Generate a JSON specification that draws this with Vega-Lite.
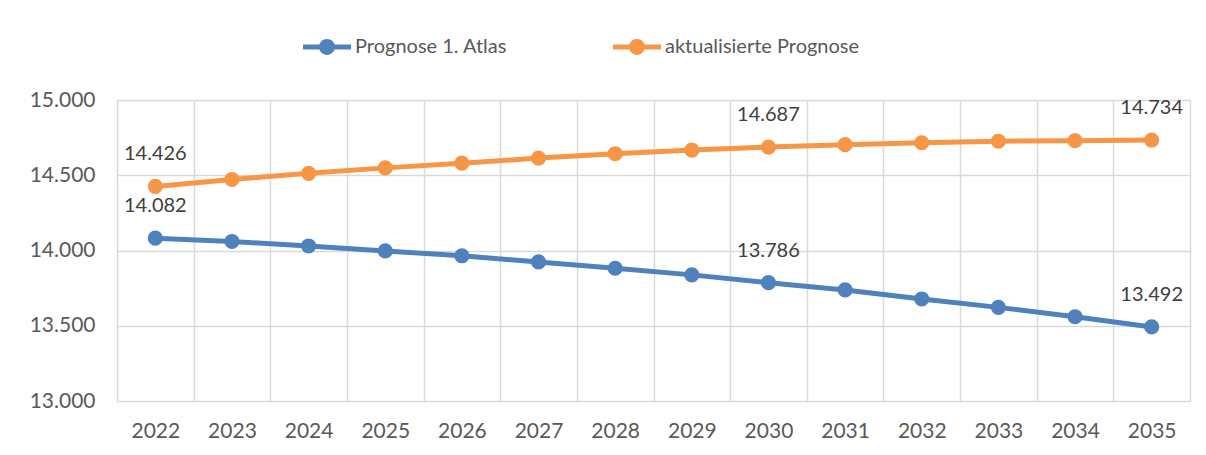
{
  "$schema": "https://vega.github.io/schema/vega-lite/v6.json",
  "width": 1073,
  "height": 301,
  "autosize": "none",
  "padding": {"left": 117, "top": 100, "right": 16, "bottom": 54},
  "background": "white",
  "config": {
    "view": {"stroke": null},
    "font": "Lato",
    "locale": {"number": {"decimal": ",", "thousands": ".", "grouping": [3], "currency": ["", " €"]}}
  },
  "data": {
    "values": [
      {"year": "2022", "series": "Prognose 1. Atlas", "value": 14082, "label": true},
      {"year": "2023", "series": "Prognose 1. Atlas", "value": 14060, "label": false},
      {"year": "2024", "series": "Prognose 1. Atlas", "value": 14030, "label": false},
      {"year": "2025", "series": "Prognose 1. Atlas", "value": 13997, "label": false},
      {"year": "2026", "series": "Prognose 1. Atlas", "value": 13965, "label": false},
      {"year": "2027", "series": "Prognose 1. Atlas", "value": 13924, "label": false},
      {"year": "2028", "series": "Prognose 1. Atlas", "value": 13882, "label": false},
      {"year": "2029", "series": "Prognose 1. Atlas", "value": 13838, "label": false},
      {"year": "2030", "series": "Prognose 1. Atlas", "value": 13786, "label": true},
      {"year": "2031", "series": "Prognose 1. Atlas", "value": 13738, "label": false},
      {"year": "2032", "series": "Prognose 1. Atlas", "value": 13678, "label": false},
      {"year": "2033", "series": "Prognose 1. Atlas", "value": 13622, "label": false},
      {"year": "2034", "series": "Prognose 1. Atlas", "value": 13560, "label": false},
      {"year": "2035", "series": "Prognose 1. Atlas", "value": 13492, "label": true},
      {"year": "2022", "series": "aktualisierte Prognose", "value": 14426, "label": true},
      {"year": "2023", "series": "aktualisierte Prognose", "value": 14472, "label": false},
      {"year": "2024", "series": "aktualisierte Prognose", "value": 14513, "label": false},
      {"year": "2025", "series": "aktualisierte Prognose", "value": 14549, "label": false},
      {"year": "2026", "series": "aktualisierte Prognose", "value": 14580, "label": false},
      {"year": "2027", "series": "aktualisierte Prognose", "value": 14614, "label": false},
      {"year": "2028", "series": "aktualisierte Prognose", "value": 14643, "label": false},
      {"year": "2029", "series": "aktualisierte Prognose", "value": 14667, "label": false},
      {"year": "2030", "series": "aktualisierte Prognose", "value": 14687, "label": true},
      {"year": "2031", "series": "aktualisierte Prognose", "value": 14703, "label": false},
      {"year": "2032", "series": "aktualisierte Prognose", "value": 14716, "label": false},
      {"year": "2033", "series": "aktualisierte Prognose", "value": 14726, "label": false},
      {"year": "2034", "series": "aktualisierte Prognose", "value": 14730, "label": false},
      {"year": "2035", "series": "aktualisierte Prognose", "value": 14734, "label": true}
    ]
  },
  "encoding": {
    "x": {
      "field": "year", "type": "ordinal", "bandPosition": 0.5,
      "scale": {"type": "band", "paddingInner": 0, "paddingOuter": 0},
      "axis": {
        "title": null, "labelAngle": 0, "domain": false, "ticks": false,
        "grid": true, "tickBand": "extent", "gridColor": "#d9d9d9", "gridWidth": 1.5,
        "labelFontSize": 21, "labelColor": "#595959", "labelPadding": 19, "labelFont": "Lato"
      }
    },
    "y": {
      "field": "value", "type": "quantitative",
      "scale": {"domain": [13000, 15000], "nice": false, "zero": false},
      "axis": {
        "title": null, "values": [13000, 13500, 14000, 14500, 15000], "format": ",d",
        "domain": false, "ticks": false, "grid": true, "gridColor": "#d9d9d9", "gridWidth": 1.5,
        "labelFontSize": 21, "labelColor": "#595959", "labelPadding": 22, "labelFont": "Lato"
      }
    },
    "color": {
      "field": "series", "type": "nominal",
      "scale": {"domain": ["Prognose 1. Atlas", "aktualisierte Prognose"], "range": ["#4F81BD", "#F79646"]},
      "legend": null
    }
  },
  "layer": [
    {
      "mark": {"type": "line", "strokeWidth": 5},
      "encoding": {
        "color": {
          "field": "series", "type": "nominal",
          "scale": {"domain": ["Prognose 1. Atlas", "aktualisierte Prognose"], "range": ["#4F81BD", "#F79646"]},
          "legend": {
            "title": null, "orient": "none", "direction": "horizontal",
            "legendX": 186, "legendY": -77, "padding": 0,
            "symbolType": "M -1 -0.1 H 1 V 0.1 H -1 Z M 0.33 0 A 0.33 0.33 0 1 1 -0.33 0 A 0.33 0.33 0 1 1 0.33 0 Z",
            "symbolSize": 2304, "symbolStrokeWidth": 0,
            "labelFontSize": 20, "labelColor": "#595959", "labelFont": "Lato", "labelLimit": 0,
            "labelOffset": 4, "columnPadding": 105,
            "encode": {"symbols": {"update": {"fill": {"scale": "color", "field": "value"}, "opacity": {"value": 1}}}}
          }
        }
      }
    },
    {
      "mark": {"type": "point", "filled": true, "size": 230, "opacity": 1}
    },
    {
      "transform": [{"filter": "datum.label"}],
      "mark": {"type": "text", "dy": -32, "baseline": "middle", "fontSize": 20, "color": "#404040", "font": "Lato"},
      "encoding": {
        "text": {"field": "value", "type": "quantitative", "format": ",d"},
        "color": {"value": "#404040"}
      }
    }
  ]
}
